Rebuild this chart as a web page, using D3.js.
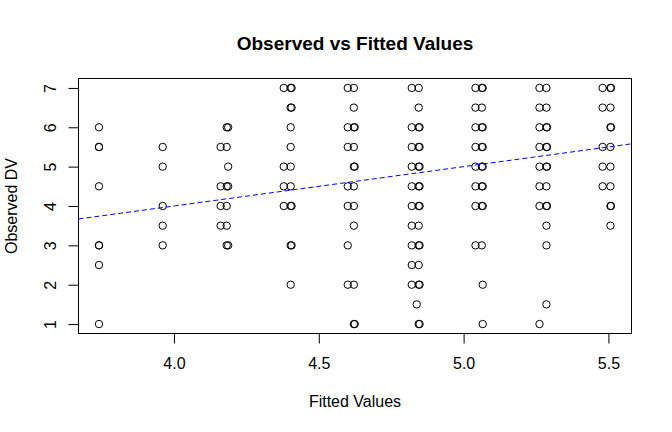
<!DOCTYPE html>
<html>
<head>
<title>Observed vs Fitted Values</title>
<script src="https://d3js.org/d3.v7.min.js" charset="utf-8"></script>
<style>
body { margin: 0; background: white; }
text { font-family: "Liberation Sans", Arial, Helvetica, sans-serif; fill: black; }
</style>
</head>
<body>
<script>
// fitted values (x) and observed DV (y)
var fitted = [
  3.741, 3.741, 3.741, 3.741, 3.741, 3.741, 3.741, 3.741,
  3.961, 3.961, 3.961, 3.961, 3.961,
  4.182, 4.187, 4.161, 4.182, 4.187, 4.161, 4.182, 4.187, 4.161, 4.182, 4.161, 4.182, 4.182, 4.187,
  4.379, 4.403, 4.406, 4.403, 4.406, 4.403, 4.403, 4.379, 4.403, 4.379, 4.403,
  4.379, 4.403, 4.406, 4.403, 4.406, 4.403,
  4.600, 4.621, 4.621, 4.600, 4.621, 4.624, 4.600, 4.621, 4.621, 4.624, 4.600, 4.621,
  4.600, 4.621, 4.621, 4.600, 4.600, 4.621, 4.621, 4.624,
  4.821, 4.845, 4.845, 4.821, 4.845, 4.848, 4.821, 4.845, 4.848, 4.821, 4.845, 4.848,
  4.821, 4.845, 4.848, 4.821, 4.845, 4.848, 4.821, 4.845, 4.821, 4.845, 4.848,
  4.821, 4.845, 4.821, 4.845, 4.848, 4.838, 4.845, 4.848,
  5.041, 5.063, 5.066, 5.041, 5.063, 5.041, 5.063, 5.066, 5.041, 5.063, 5.066,
  5.041, 5.063, 5.066, 5.041, 5.063, 5.066, 5.041, 5.063, 5.066, 5.041, 5.063, 5.066, 5.066,
  5.262, 5.286, 5.262, 5.286, 5.262, 5.286, 5.288, 5.262, 5.286, 5.288, 5.262, 5.286, 5.288,
  5.262, 5.286, 5.262, 5.286, 5.288, 5.286, 5.286, 5.286, 5.262,
  5.480, 5.507, 5.509, 5.480, 5.507, 5.507, 5.509, 5.480, 5.507, 5.480, 5.507,
  5.480, 5.507, 5.507, 5.509, 5.507
];
var observed = [
  6, 5.5, 5.5, 4.5, 3, 3, 2.5, 1,
  5.5, 5, 4, 3.5, 3,
  6, 6, 5.5, 5.5, 5, 4.5, 4.5, 4.5, 4, 4, 3.5, 3.5, 3, 3,
  7, 7, 7, 6.5, 6.5, 6, 5.5, 5, 5, 4.5, 4.5,
  4, 4, 4, 3, 3, 2,
  7, 7, 6.5, 6, 6, 6, 5.5, 5.5, 5, 5, 4.5, 4.5,
  4, 4, 3.5, 3, 2, 2, 1, 1,
  7, 7, 6.5, 6, 6, 6, 5.5, 5.5, 5.5, 5, 5, 5,
  4.5, 4.5, 4.5, 4, 4, 4, 3.5, 3.5, 3, 3, 3,
  2.5, 2.5, 2, 2, 2, 1.5, 1, 1,
  7, 7, 7, 6.5, 6.5, 6, 6, 6, 5.5, 5.5, 5.5,
  5, 5, 5, 4.5, 4.5, 4.5, 4, 4, 4, 3, 3, 2, 1,
  7, 7, 6.5, 6.5, 6, 6, 6, 5.5, 5.5, 5.5, 5, 5, 5,
  4.5, 4.5, 4, 4, 4, 3.5, 3, 1.5, 1,
  7, 7, 7, 6.5, 6.5, 6, 6, 5.5, 5.5, 5, 5,
  4.5, 4.5, 4, 4, 3.5
];
var xTicks = [4.0, 4.5, 5.0, 5.5];
var yTicks = [1, 2, 3, 4, 5, 6, 7];
var lineIntercept = 0;
var lineSlope = 1;

var width = 672, height = 432;
var boxL = 78.5, boxR = 631.5, boxT = 78.5, boxB = 333.5;

var svg = d3.select("body").append("svg")
  .attr("width", width)
  .attr("height", height);

// R style 4% padding around the data range
var xe = d3.extent(fitted), ye = d3.extent(observed);
var xp = (xe[1] - xe[0]) * 0.04, yp = (ye[1] - ye[0]) * 0.04;
var x = d3.scaleLinear().domain([xe[0] - xp, xe[1] + xp]).range([boxL, boxR]);
var y = d3.scaleLinear().domain([ye[0] - yp, ye[1] + yp]).range([boxB, boxT]);

svg.append("defs").append("clipPath").attr("id", "clip")
  .append("rect")
  .attr("x", boxL).attr("y", boxT)
  .attr("width", boxR - boxL).attr("height", boxB - boxT);

// points
svg.append("g").selectAll("circle")
  .data(fitted)
  .enter()
  .append("circle")
  .attr("cx", function(d) { return x(d); })
  .attr("cy", function(d, i) { return y(observed[i]); })
  .attr("r", 3.7)
  .attr("fill", "none")
  .attr("stroke", "black")
  .attr("stroke-width", 1);

// fitted line
var xd = x.domain();
svg.append("line")
  .attr("clip-path", "url(#clip)")
  .attr("x1", x(xd[0])).attr("y1", y(lineIntercept + lineSlope * xd[0]))
  .attr("x2", x(xd[1])).attr("y2", y(lineIntercept + lineSlope * xd[1]))
  .attr("stroke", "#0000ff")
  .attr("stroke-width", 1)
  .attr("stroke-dasharray", "5,3");

// box
svg.append("rect")
  .attr("x", boxL).attr("y", boxT)
  .attr("width", boxR - boxL).attr("height", boxB - boxT)
  .attr("fill", "none")
  .attr("stroke", "black");

// x axis
var xAxis = d3.axisBottom(x).tickValues(xTicks).tickSize(10).tickPadding(0)
  .tickFormat(d3.format(".1f"));
var gx = svg.append("g").attr("transform", "translate(0," + boxB + ")").call(xAxis);
gx.select(".domain").remove();
gx.selectAll("line").attr("stroke", "black");
gx.selectAll("text")
  .attr("y", 35.5).attr("dy", null)
  .style("font-size", "16px")
  .style("font-family", "'Liberation Sans', Arial, sans-serif");

// y axis, labels parallel to the axis
var yAxis = d3.axisLeft(y).tickValues(yTicks).tickSize(10).tickFormat(d3.format("d"));
var gy = svg.append("g").attr("transform", "translate(" + boxL + ",0)").call(yAxis);
gy.select(".domain").remove();
gy.selectAll("line").attr("stroke", "black");
gy.selectAll("text")
  .attr("x", null).attr("dy", null)
  .attr("text-anchor", "middle")
  .attr("transform", "translate(-23,0) rotate(-90)")
  .style("font-size", "16px")
  .style("font-family", "'Liberation Sans', Arial, sans-serif");

// titles
svg.append("text")
  .attr("x", (boxL + boxR) / 2).attr("y", 50)
  .attr("text-anchor", "middle")
  .style("font-size", "19px")
  .style("font-weight", "bold")
  .text("Observed vs Fitted Values");

svg.append("text")
  .attr("x", (boxL + boxR) / 2).attr("y", 407)
  .attr("text-anchor", "middle")
  .style("font-size", "16px")
  .text("Fitted Values");

svg.append("text")
  .attr("transform", "translate(17," + ((boxT + boxB) / 2) + ") rotate(-90)")
  .attr("text-anchor", "middle")
  .style("font-size", "16px")
  .text("Observed DV");
</script>
</body>
</html>
